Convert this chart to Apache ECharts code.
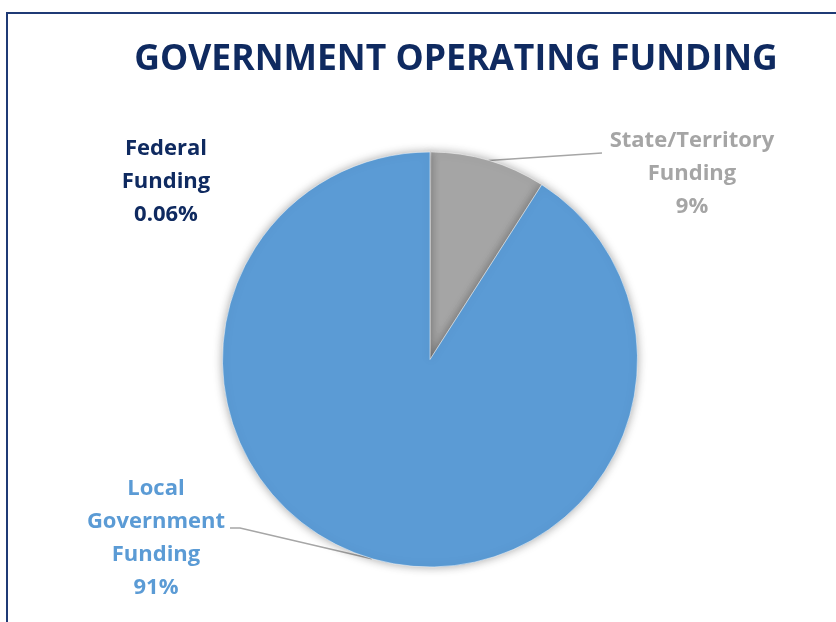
<!DOCTYPE html>
<html>
<head>
<meta charset="utf-8">
<title>Government Operating Funding</title>
<script src="https://cdn.jsdelivr.net/npm/echarts@6/dist/echarts.min.js"></script>
<style>
  html, body { margin: 0; padding: 0; background: #ffffff; }
  #chart { width: 836px; height: 622px; }
</style>
</head>
<body>
<div id="chart"></div>
<script>
// Funding sources, in drawing order (clockwise from 12 o'clock)
const categories = ['Federal\nFunding', 'State/Territory\nFunding', 'Local\nGovernment\nFunding'];
const shares = [0.06, 9, 91];           // percent of operating funding
const sliceColors = ['#1F3864', '#A5A5A5', '#5B9BD5'];
const labelColors = ['#0F2A60', '#A5A5A5', '#5B9BD5'];

// Where each label block sits, and where its leader line ends
const labelSpots = [
  { x: 166, y: 182, line: null },
  { x: 692, y: 174, line: [[602, 153]] },
  { x: 156, y: 538, line: [[240, 528], [230, 528]] }
];

const chart = echarts.init(document.getElementById('chart'), null, { renderer: 'canvas' });

const seriesData = categories.map((name, i) => ({
  name: name,
  value: shares[i],
  itemStyle: { color: sliceColors[i] },
  label: { color: labelColors[i] },
  labelLine: { show: labelSpots[i].line !== null }
}));

chart.setOption({
  backgroundColor: '#ffffff',
  animation: false,
  title: {
    text: 'GOVERNMENT OPERATING FUNDING',
    left: 451,
    top: 37,
    textAlign: 'center',
    textStyle: {
      fontFamily: '"Open Sans", sans-serif',
      fontWeight: 'bold',
      fontSize: 35.5,
      color: '#0F2A60'
    }
  },
  graphic: [{
    type: 'rect',
    shape: { x: 7, y: 13, width: 900, height: 700 },
    style: { fill: 'none', stroke: '#1F3A75', lineWidth: 2 },
    silent: true
  }],
  series: [{
    type: 'pie',
    center: [430, 359.5],
    radius: 207.5,
    startAngle: 90,
    clockwise: true,
    avoidLabelOverlap: false,
    data: seriesData,
    itemStyle: {
      borderColor: '#ffffff',
      borderWidth: 0.5,
      shadowBlur: 10,
      shadowColor: 'rgba(0,0,0,0.35)'
    },
    label: {
      show: true,
      position: 'outside',
      formatter: p => p.name + '\n' + p.value + '%',
      fontFamily: '"Open Sans", sans-serif',
      fontWeight: 'bold',
      fontSize: 22,
      lineHeight: 33,
      align: 'center'
    },
    labelLine: {
      show: true,
      length: 20,
      length2: 20,
      lineStyle: { color: '#A6A6A6', width: 1.5 }
    },
    labelLayout: function (params) {
      const spot = labelSpots[params.dataIndex];
      const out = { x: spot.x, y: spot.y, align: 'center', verticalAlign: 'middle' };
      if (spot.line && params.labelLinePoints) {
        out.labelLinePoints = [params.labelLinePoints[0]].concat(spot.line);
      }
      return out;
    },
    emphasis: { disabled: true }
  }]
});
</script>
</body>
</html>
